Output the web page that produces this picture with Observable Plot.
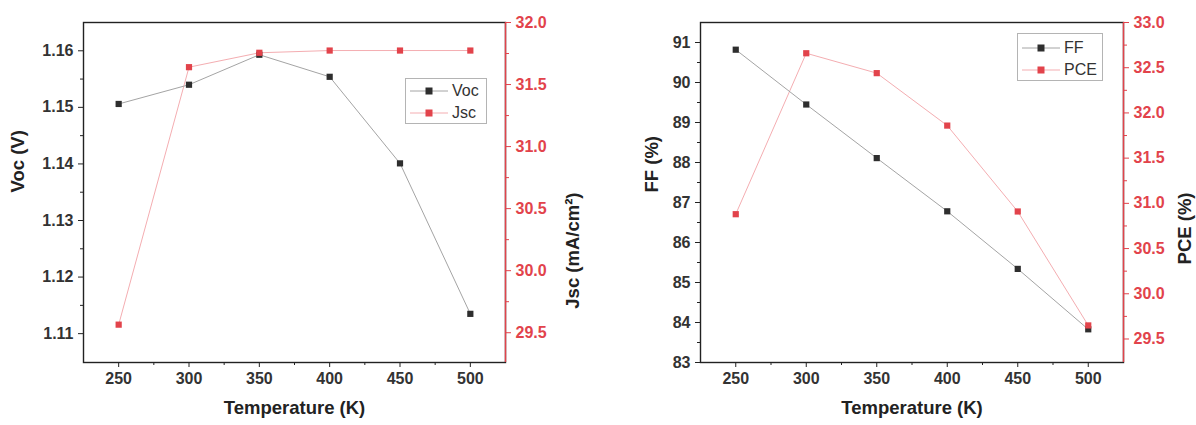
<!DOCTYPE html>
<html><head><meta charset="utf-8">
<script src="https://cdn.jsdelivr.net/npm/d3@7"></script>
<script src="https://cdn.jsdelivr.net/npm/@observablehq/plot@0.6"></script>
<style>
body{margin:0;background:#fff;}
#wrap{position:relative;width:1196px;height:425px;display:flex;overflow:hidden;}
.legend{position:absolute;box-sizing:border-box;border:1px solid #b4b4b4;background:#fff;font:16px "Liberation Sans",Arial,sans-serif;color:#333;}
.legend .row{position:absolute;left:0;height:20px;display:flex;align-items:center;}
.legend svg{display:block;}
</style></head>
<body><div id="wrap"></div>
<script>
// ---- data ----
const temperature = [250, 300, 350, 400, 450, 500];
const voc = [1.1506, 1.1540, 1.1593, 1.1554, 1.1401, 1.1135];
const jsc = [29.565, 31.64, 31.756, 31.774, 31.774, 31.774];
const ff = [90.82, 89.45, 88.11, 86.78, 85.34, 83.83];
const pce = [30.88, 32.66, 32.44, 31.86, 30.91, 29.65];
const xTicks = [250, 300, 350, 400, 450, 500];
const xMinor = [275, 325, 375, 425, 475];
const vocTicks = [1.11, 1.12, 1.13, 1.14, 1.15, 1.16];
const vocMinor = [1.115, 1.125, 1.135, 1.145, 1.155];
const jscTicks = [29.5, 30.0, 30.5, 31.0, 31.5, 32.0];
const jscMinor = [29.75, 30.25, 30.75, 31.25, 31.75];
const ffTicks = [83, 84, 85, 86, 87, 88, 89, 90, 91];
const ffMinor = [83.5, 84.5, 85.5, 86.5, 87.5, 88.5, 89.5, 90.5];
const pceTicks = [29.5, 30.0, 30.5, 31.0, 31.5, 32.0, 32.5, 33.0];
const pceMinor = [29.75, 30.25, 30.75, 31.25, 31.75, 32.25, 32.75];

const BLACK = "#2e2e2e", BLINE = "#a4a4a4", RED = "#e2434b", RLINE = "#f4adb1", TXT = "#333";
const FONT = "Liberation Sans, Arial, sans-serif";

function panel(o) {
  const toP = d3.scaleLinear().domain(o.y2Domain).range(o.yDomain);
  const rows1 = temperature.map((t, i) => ({t, v: o.s1[i]}));
  const rows2 = temperature.map((t, i) => ({t, v: toP(o.s2[i])}));
  return Plot.plot({
    width: o.width, height: 425,
    marginLeft: o.marginLeft, marginRight: o.marginRight, marginTop: 22, marginBottom: 63,
    x: {domain: [225, 525]},
    y: {domain: o.yDomain},
    style: {fontFamily: FONT, fontSize: "16px", background: "#fff"},
    marks: [
      Plot.line(rows2, {x: "t", y: "v", stroke: RLINE, strokeWidth: 1}),
      Plot.line(rows1, {x: "t", y: "v", stroke: BLINE, strokeWidth: 1}),
      Plot.dot(rows1, {x: "t", y: "v", symbol: "square", r: 3.5, fill: BLACK, stroke: null}),
      Plot.dot(rows2, {x: "t", y: "v", symbol: "square", r: 3.5, fill: RED, stroke: null}),
      Plot.frame({stroke: "#222", strokeWidth: 1.4}),
      Plot.ruleX([525], {stroke: RED, strokeWidth: 1.4}),
      Plot.axisX(xTicks, {tickSize: 5, tickPadding: 5, fontWeight: "bold", fill: TXT, label: null, stroke: "#222"}),
      Plot.axisX(xMinor, {tickSize: 3, tickFormat: () => "", label: null, stroke: "#222"}),
      Plot.axisY(o.yTicks, {anchor: "left", tickSize: 5, tickPadding: 5, fontWeight: "bold", fill: TXT, label: null, stroke: "#222", tickFormat: o.yFormat}),
      Plot.axisY(o.yMinor, {anchor: "left", tickSize: 3, tickFormat: () => "", label: null, stroke: "#222"}),
      Plot.axisY(o.y2Ticks.map(toP), {anchor: "right", tickSize: 5, tickPadding: 5, fontWeight: "bold", fill: RED, stroke: RED, label: null, tickFormat: v => toP.invert(v).toFixed(1)}),
      Plot.axisY(o.y2Minor.map(toP), {anchor: "right", tickSize: 3, tickFormat: () => "", stroke: RED, label: null}),
      Plot.text(["Temperature (K)"], {frameAnchor: "bottom", dy: 51, fontSize: 18.5, fontWeight: "bold", fill: "#222"}),
      Plot.text([o.yLabel], {frameAnchor: "left", dx: o.yLabelDx, rotate: -90, fontSize: 18.5, fontWeight: "bold", fill: "#222"}),
      Plot.text([o.y2Label], {frameAnchor: "right", dx: o.y2LabelDx, rotate: -90, fontSize: 18.5, fontWeight: "bold", fill: "#222"})
    ]
  });
}

const wrap = document.getElementById("wrap");
wrap.append(panel({
  width: 598, marginLeft: 83, marginRight: 93,
  yDomain: [1.1049, 1.165], y2Domain: [29.26, 32.0],
  yTicks: vocTicks, yMinor: vocMinor, y2Ticks: jscTicks, y2Minor: jscMinor,
  yFormat: d => d.toFixed(2),
  s1: voc, s2: jsc,
  yLabel: "Voc (V)", yLabelDx: -65, y2Label: "Jsc (mA/cm²)", y2LabelDx: 68
}));
wrap.append(panel({
  width: 598, marginLeft: 102, marginRight: 73,
  yDomain: [83, 91.5], y2Domain: [29.24, 33.0],
  yTicks: ffTicks, yMinor: ffMinor, y2Ticks: pceTicks, y2Minor: pceMinor,
  yFormat: d => d.toFixed(0),
  s1: ff, s2: pce,
  yLabel: "FF (%)", yLabelDx: -48, y2Label: "PCE (%)", y2LabelDx: 62
}));

function legend(left, top, w, h, items) {
  const div = document.createElement("div");
  div.className = "legend";
  Object.assign(div.style, {left: left + "px", top: top + "px", width: w + "px", height: h + "px"});
  items.forEach((it, i) => {
    const row = document.createElement("div");
    row.className = "row";
    row.style.top = (it.y - top - 10) + "px";
    row.innerHTML = `<svg width="46" height="20"><line x1="4" x2="42" y1="10" y2="10" stroke="${it.line}" stroke-width="1"/><rect x="19.5" y="6.5" width="7" height="7" fill="${it.color}"/></svg><span>${it.label}</span>`;
    div.append(row);
  });
  wrap.append(div);
}
legend(405, 78, 82, 46, [
  {label: "Voc", color: BLACK, line: BLINE, y: 90},
  {label: "Jsc", color: RED, line: RLINE, y: 112}
]);
legend(1017, 33, 86, 48, [
  {label: "FF", color: BLACK, line: BLINE, y: 47},
  {label: "PCE", color: RED, line: RLINE, y: 69}
]);
</script></body></html>
